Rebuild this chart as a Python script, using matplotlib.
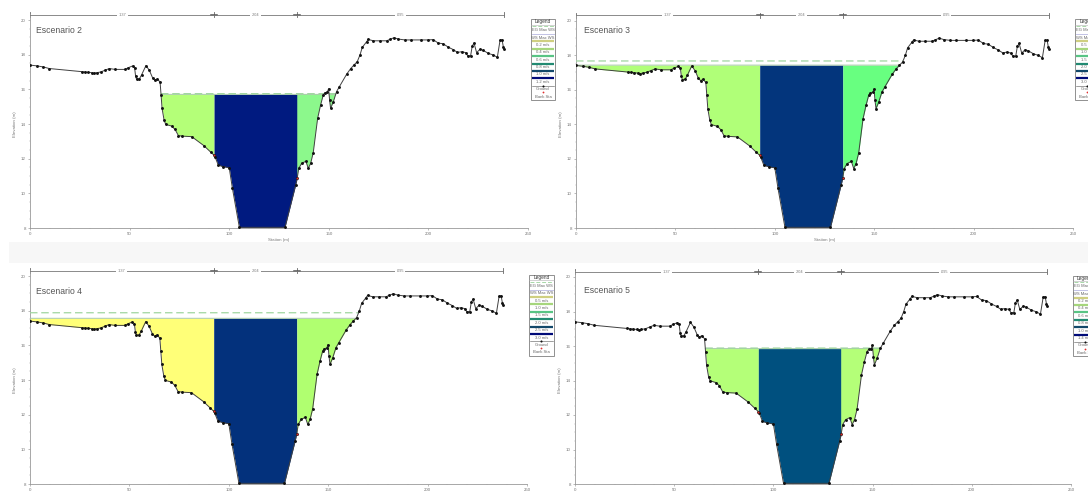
import matplotlib
matplotlib.use("Agg")
import matplotlib.pyplot as plt
import numpy as np

plt.rcParams['font.family'] = ['Liberation Sans', 'DejaVu Sans']

W, H = 1088, 493

station = [0, 3.7, 6.7, 9.7, 26, 27.6, 29.3, 31, 32.1, 33.5, 35.5, 37.6, 39.8, 42.7, 47.7, 49.4,
           51.5, 52.5, 53, 53.5, 54.9, 56, 58.2, 59.9, 61.6, 62.7, 63.9, 65.3, 65.8, 66.3, 67.3,
           68.1, 71.1, 72.8, 74.5, 76.5, 81.2, 87.3, 90.7, 92.4, 92.9, 94.5, 97, 100, 101.6, 105.1,
           128, 133.4, 134.2, 134.9, 136.4, 138.5, 139.7, 140.9, 142.2, 144.4, 145.9, 147.2, 148,
           149.3, 149.9, 150.4, 150.9, 152.3, 153.9, 155.3, 159, 161, 162.6, 164.3, 165.7, 166.8,
           169, 169.8, 172.4, 175.7, 179, 180.7, 182.7, 184.9, 188.2, 191.2, 196.2, 199.9, 202.4,
           204.9, 207.4, 209.9, 212.5, 214.6, 216.7, 218.7, 219.7, 221.2, 222, 222.9, 224.2, 225.9,
           227.5, 230, 232.6, 234.6, 236, 237, 237.6, 238]
elevation = [17.4, 17.35, 17.29, 17.2, 17.02, 17.0, 16.98, 16.96, 16.92, 16.96, 17.0, 17.1, 17.2,
             17.15, 17.15, 17.25, 17.35, 17.25, 16.77, 16.58, 16.6, 16.83, 17.37, 17.1, 16.65, 16.52,
             16.6, 16.42, 15.67, 14.9, 14.23, 13.98, 13.88, 13.69, 13.33, 13.3, 13.27, 12.75, 12.38,
             12.2, 12.1, 11.63, 11.54, 11.48, 10.3, 8.04, 8.04, 10.5, 10.9, 11.44, 11.73, 11.85,
             11.44, 11.73, 12.35, 14.33, 15.1, 15.67, 15.8, 15.85, 16.04, 15.38, 14.9, 15.29, 15.87,
             16.15, 16.88, 17.2, 17.4, 17.6, 18.0, 18.42, 18.75, 18.88, 18.8, 18.8, 18.8, 18.88,
             18.98, 18.9, 18.85, 18.85, 18.85, 18.85, 18.87, 18.67, 18.63, 18.44, 18.29, 18.13,
             18.17, 18.12, 17.94, 17.94, 18.5, 18.67, 18.12, 18.31, 18.25, 18.08, 17.98, 17.85,
             18.85, 18.85, 18.46, 18.33]

bank_left, bank_right = 92.4, 134.2
bank_elev = [12.2, 10.9]

titles = ['Escenario 2', 'Escenario 3', 'Escenario 4', 'Escenario 5']
ws_levels = [15.71, 17.42, 17.56, 15.85]
eg_levels = [15.75, 17.66, 17.88, 15.88]
left_colors = ['#b4ff78', '#b0ff78', '#ffff78', '#b4ff78']
chan_colors = ['#001a80', '#03357c', '#03317c', '#00507f']
right_colors = ['#8cf88c', '#68ff80', '#b0ff70', '#b4ff78']
reach_labels = ['.137', '.204', '.095']
legend_speeds = [['0.2', '0.4', '0.6', '0.8', '1.0', '1.2'],
                 ['0.5', '1.0', '1.5', '2.0', '2.5', '3.0'],
                 ['0.5', '1.0', '1.5', '2.0', '2.5', '3.0'],
                 ['0.2', '0.4', '0.6', '0.8', '1.0', '1.4']]
legend_colors = ['#cfcf80', '#a6d67c', '#58c484', '#228a72', '#12486a', '#000a78']

# pixel boxes: left, right, top (elev 20), bottom (elev 8)
boxes = [(30, 528, 20, 228), (576, 1073, 20.5, 228), (30, 527, 276, 484), (575, 1071, 277, 484)]
legend_x = [530.5, 1075, 529, 1072.5]
legend_y = [19.3, 19.3, 275, 275.5]
title_pos = [(3.2, 19.37), (4.0, 19.4), (3.2, 19.08), (4.5, 19.2)]

fig = plt.figure(figsize=(W / 100, H / 100), dpi=100, facecolor='white')

bg = fig.add_axes([0, 0, 1, 1], zorder=0)
bg.set_xlim(0, W)
bg.set_ylim(H, 0)
bg.axis('off')
bg.fill_between([9, 1088], 242, 263, color='#f7f7f7', lw=0)

st = np.array(station)
el = np.array(elevation)
GREY = '#777777'

for i, (l, r, t, b) in enumerate(boxes):
    ax = fig.add_axes([l / W, 1 - b / H, (r - l) / W, (b - t) / H], zorder=1)
    ax.patch.set_alpha(0)
    ax.set_xlim(0, 250)
    ax.set_ylim(8, 20)
    ws, eg = ws_levels[i], eg_levels[i]
    grid = np.unique(np.concatenate([st, np.arange(0, 238.01, 0.05)]))
    g = np.interp(grid, st, el)
    for mask, col in [(grid <= bank_left, left_colors[i]),
                      ((grid >= bank_left) & (grid <= bank_right), chan_colors[i]),
                      (grid >= bank_right, right_colors[i])]:
        ax.fill_between(grid[mask], g[mask], ws, where=g[mask] < ws, color=col, lw=0, zorder=2)
    wet = g < ws
    ax.plot(grid, np.where(wet, ws, np.nan), color='#a8c8a8', lw=0.7, zorder=3)
    ax.plot(grid, np.where(g < eg, eg, np.nan), color='#9fd59f', lw=0.9,
            dashes=(6, 3), zorder=3)
    ax.plot(station, elevation, color='#404040', lw=0.7, zorder=4)
    ax.plot(station, elevation, ls='none', marker='o', ms=2.1, color='#111111', mew=0, zorder=5)
    ax.plot([bank_left, bank_right], bank_elev, ls='none', marker='o', ms=1.4, color='#e03030',
            mew=0, zorder=6)

    for s in ('top', 'right'):
        ax.spines[s].set_visible(False)
    for s in ('left', 'bottom'):
        ax.spines[s].set_color('#999999')
        ax.spines[s].set_linewidth(0.6)
    ax.set_xticks(np.arange(0, 251, 50))
    ax.set_xticks(np.arange(0, 251, 10), minor=True)
    ax.set_yticks(np.arange(8, 21, 2))
    ax.set_yticks(np.arange(8, 20.01, 0.5), minor=True)
    ax.tick_params(axis='both', which='major', length=1.5, width=0.4, color='#888888',
                   labelsize=3.2, labelcolor=GREY, pad=1.5)
    ax.tick_params(axis='both', which='minor', length=1, width=0.3, color='#aaaaaa')
    ax.set_xlabel('Station (m)', fontsize=3.2, color=GREY, labelpad=1.2)
    ax.set_ylabel('Elevation (m)', fontsize=3.2, color=GREY, labelpad=3)
    ax.text(title_pos[i][0], title_pos[i][1], titles[i], fontsize=6.2, color='#555555',
            va='center', ha='left')

    # reach-length bar above the plot
    bar_y = 20.3
    ax.plot([0, 238], [bar_y, bar_y], color='#777777', lw=0.6, clip_on=False, zorder=3)
    ax.spines['left'].set_bounds(8, 20.33)
    for sx in (0, bank_left, bank_right, 238):
        ax.plot([sx, sx], [bar_y - 0.15, bar_y + 0.15], color='#666666', lw=0.6, clip_on=False)
    for sx in (bank_left, bank_right):
        ax.plot([sx - 1.5, sx + 1.5], [bar_y, bar_y], color='#555555', lw=1.1, clip_on=False)
    mids = [(0 + bank_left) / 2, (bank_left + bank_right) / 2, (bank_right + 238) / 2]
    for mx, lab in zip(mids, reach_labels):
        ax.text(mx, bar_y, lab, fontsize=2.8, color=GREY, ha='center', va='center', clip_on=False,
                bbox=dict(fc='white', ec='none', pad=1.2), zorder=4)

    # legend drawn on the page layer
    lx, ly = legend_x[i], legend_y[i]
    lg_w, lg_h = 24.8, 80.7
    lx2 = lx + lg_w
    cx = lx + lg_w / 2
    bg.add_patch(plt.Rectangle((lx, ly), lg_w, lg_h, fc='white', ec='#909090', lw=0.7, zorder=2))
    bg.plot([lx, lx2], [ly + 5.2, ly + 5.2], color='#b0b0b0', lw=0.4, zorder=3)
    txt = dict(fontsize=3.0, color='#666666', ha='center', va='center', zorder=4)
    bg.text(cx, ly + 2.7, 'Legend', fontsize=3.4, color='#333333', ha='center', va='center', zorder=4)
    bg.plot([lx + 1, lx2 - 1], [ly + 6.7, ly + 6.7], color='#a8d8a8', lw=0.7, dashes=(4, 2), zorder=3)
    bg.text(cx, ly + 10.9, 'EG Max WS', **txt)
    bg.plot([lx + 1, lx2 - 1], [ly + 14.6, ly + 14.6], color='#b8b8e0', lw=0.6, zorder=3)
    bg.text(cx, ly + 18.5, 'WS Max WS', **txt)
    for k, (sp, col) in enumerate(zip(legend_speeds[i], legend_colors)):
        y0 = ly + 22 + 7.42 * k
        bg.plot([lx + 1, lx2 - 1], [y0, y0], color=col, lw=1.6, solid_capstyle='butt', zorder=3)
        bg.text(cx, y0 + 3.5, sp + ' m/s', **txt)
    bg.plot([lx + 1, lx2 - 1], [ly + 66.4, ly + 66.4], color='#555555', lw=0.4, zorder=3)
    bg.plot([cx], [ly + 66.4], marker='o', ms=1.5, color='#111111', mew=0, zorder=4)
    bg.text(cx, ly + 69.8, 'Ground', **txt)
    bg.plot([cx], [ly + 73], marker='o', ms=1.3, color='#e03030', mew=0, zorder=4)
    bg.text(cx, ly + 77.4, 'Bank Sta', **txt)

bg.set_xlim(0, W)
bg.set_ylim(H, 0)
fig.savefig('out.png', dpi=100)
